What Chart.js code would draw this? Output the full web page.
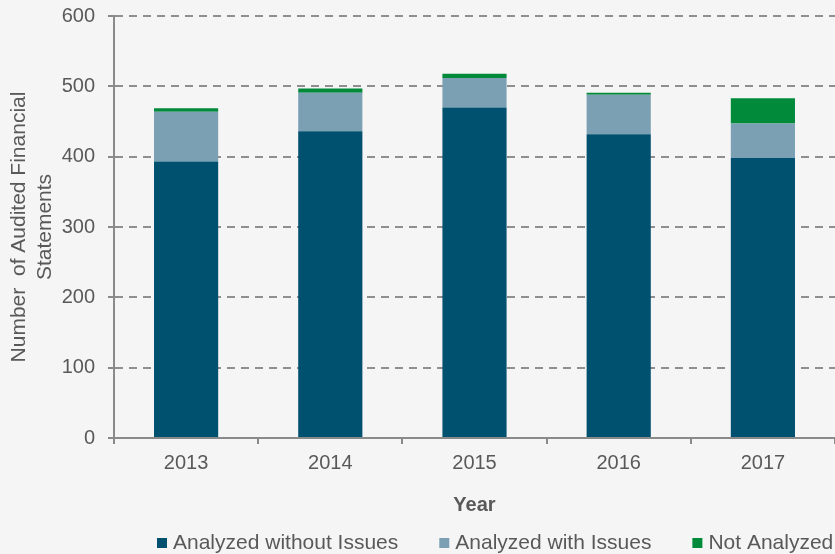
<!DOCTYPE html>
<html>
<head>
<meta charset="utf-8">
<script src="https://cdn.jsdelivr.net/npm/chart.js@4.4.1/dist/chart.umd.min.js"></script>
<style>
  html, body { margin: 0; padding: 0; background: #f5f5f5; }
  #wrap { width: 835px; height: 554px; }
</style>
</head>
<body>
<div id="wrap"><canvas id="statementsChart"></canvas></div>
<script>
// 연도별 감사 재무제표 건수
const years = ['2013', '2014', '2015', '2016', '2017'];
const withoutIssues = [393, 436, 470, 432, 398];
const withIssues = [71, 55, 42, 56, 49];
const notAnalyzed = [5, 6, 6, 3, 36];
const yTicks = [0, 100, 200, 300, 400, 500, 600];

const textColor = '#595959';
const axisColor = '#8a8a8a';

Chart.defaults.font.family = '"Liberation Sans", Arial, sans-serif';
Chart.defaults.color = textColor;

// 하단 범례 (작은 사각형 + 텍스트)
const bottomLegend = {
    id: 'bottomLegend',
    afterDraw(chart) {
        const ctx = chart.ctx;
        ctx.save();
        ctx.font = '21px "Liberation Sans", Arial, sans-serif';
        ctx.textBaseline = 'middle';
        let x = 157;
        const y = 543;
        chart.data.datasets.forEach(ds => {
            ctx.fillStyle = ds.backgroundColor;
            ctx.fillRect(x, y - 5, 10, 10);
            ctx.fillStyle = textColor;
            ctx.fillText(ds.label, x + 16, y);
            x += 16 + ctx.measureText(ds.label).width + 41;
        });
        ctx.restore();
    }
};

const ctx = document.getElementById('statementsChart').getContext('2d');
window.chart = new Chart(ctx, {
    type: 'bar',
    data: {
        labels: years,
        datasets: [{
            label: 'Analyzed without Issues',
            data: withoutIssues,
            backgroundColor: '#005070'
        }, {
            label: 'Analyzed with Issues',
            data: withIssues,
            backgroundColor: '#7ba0b4'
        }, {
            label: 'Not Analyzed',
            data: notAnalyzed,
            backgroundColor: '#008a3a'
        }]
    },
    options: {
        responsive: true,
        maintainAspectRatio: false,
        animation: false,
        categoryPercentage: 1,
        barPercentage: 0.445,
        layout: {
            padding: { top: 16, bottom: 37, left: 0, right: 0 }
        },
        plugins: {
            legend: { display: false },
            tooltip: { enabled: false }
        },
        scales: {
            x: {
                stacked: true,
                grid: {
                    display: true,
                    drawOnChartArea: false,
                    offset: true,
                    tickLength: 6,
                    color: axisColor,
                    lineWidth: 2
                },
                border: { color: axisColor, width: 2 },
                ticks: {
                    font: { size: 20 },
                    color: textColor,
                    padding: 7
                },
                title: {
                    display: true,
                    text: 'Year',
                    font: { size: 20, weight: 'bold' },
                    color: textColor,
                    padding: { top: 11, bottom: 0 }
                }
            },
            y: {
                stacked: true,
                min: 0,
                max: 600,
                afterBuildTicks: scale => {
                    scale.ticks = yTicks.map(v => ({ value: v }));
                },
                afterFit: scale => {
                    scale.width = 114; // 축 폭 고정
                    scale.paddingTop = 0;
                    scale.paddingBottom = 0;
                },
                grid: {
                    color: c => (c.tick && c.tick.value === 0) ? 'rgba(0,0,0,0)' : '#8f8f8f',
                    tickColor: axisColor,
                    lineWidth: 2,
                    tickLength: 6
                },
                border: { color: axisColor, width: 2, dash: [8, 6] },
                ticks: {
                    font: { size: 20 },
                    color: textColor,
                    padding: 13
                },
                title: {
                    display: true,
                    text: ['Number  of Audited Financial', 'Statements'],
                    font: { size: 21 },
                    color: textColor,
                    padding: { top: 7, bottom: 0 }
                }
            }
        }
    },
    plugins: [bottomLegend]
});
</script>
</body>
</html>
